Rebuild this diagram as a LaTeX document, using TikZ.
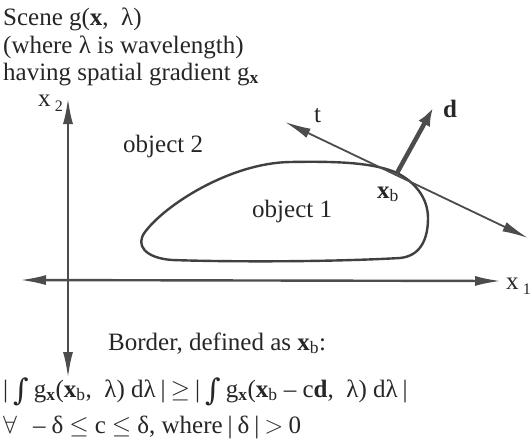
\documentclass[tikz,border=0pt]{standalone}
\usepackage{fix-cm}
\usepackage{fontspec}
\setmainfont{Liberation Serif}
\newfontfamily\intfont{DejaVu Serif}
\usetikzlibrary{positioning, arrows.meta, calc}
\newcommand{\vb}[1]{\textbf{#1}}
\newcommand{\xb}{\vb{x}\textsubscript{b}}
\newcommand{\gx}{g\textsubscript{\vb{x}}}
\newcommand{\absbar}{\hspace{5pt}|\hspace{5pt}}
\newcommand{\bigint}{\raisebox{-3pt}{\intfont\fontsize{30}{30}\selectfont ∫}}

\begin{document}
\begin{tikzpicture}[x=1pt, y=-1pt,
    txt/.style={inner sep=0pt, anchor=base west, text=black!85,
      font=\fontsize{25}{28}\selectfont},
    axis/.style={line width=2.4pt, draw=black!70,
      arrows={Latex[length=26pt, width=10pt]-Latex[length=26pt, width=10pt]}},
    tang/.style={line width=1.8pt, draw=black!70,
      arrows={Latex[length=26pt, width=10pt]-Latex[length=26pt, width=10pt]}},
    normal/.style={line width=4.5pt, draw=black!70,
      -{Latex[length=18pt, width=13pt]}},
    blob/.style={line width=2.4pt, draw=black!75}]
  \useasboundingbox (0,0) rectangle (530,440);

  % heading
  \node[txt] (head1) at (3,25) {Scene g(\vb{x}, \ λ)};
  \node[txt] (head2) at (3,53) {(where λ is wavelength)};
  \node[txt] (head3) at (3,80) {having spatial gradient \gx};

  % axes
  \coordinate (ytop) at (68,98);
  \coordinate (ybot) at (68,378);
  \coordinate (xleft) at (20,280);
  \coordinate (xright) at (501,281);
  \draw[axis] (ybot) -- (ytop);
  \draw[axis] (xleft) -- (xright);
  \node[txt] (xtwo) at (38,106) {x\,\raisebox{-5pt}{\fontsize{16}{18}\selectfont 2}};
  \node[txt] (xone) at (506,289) {x\,\raisebox{-5pt}{\fontsize{16}{18}\selectfont 1}};

  % object 1 outline
  \coordinate (bp) at (397,173);
  \draw[blob] (bp) .. controls (415,182) and (428,198) .. (428,218)
    .. controls (428,240) and (420,256) .. (400,258)
    .. controls (330,262) and (230,262) .. (172,260)
    .. controls (145,258) and (135,245) .. (145,232)
    .. controls (165,205) and (230,163) .. (290,162)
    .. controls (340,161) and (375,163) .. (bp);
  \node[txt] (obj1) at (252,217) {object 1};
  \node[txt] (obj2) at (123,152) {object 2};

  % tangent and normal at the border point
  \coordinate (tend) at (285,122);
  \coordinate (tfar) at (528,238);
  \coordinate (dtip) at (433,108);
  \draw[tang] (tend) -- (tfar);
  \draw[normal] (bp) -- (dtip);
  \node[txt] (tlab) at (314,122) {t};
  \node[txt] (dlab) at (443,117) {\vb{d}};
  \node[txt] (xblab) at (377,198) {\xb};

  % border definition
  \node[txt] (bord) at (108,350) {Border, defined as \xb:};
  \node[txt] (eq1) at (3,397) {|\hspace{5pt}\bigint\hspace{5pt}\gx(\xb, \ λ)\ dλ\absbar$\geq$\absbar\bigint\hspace{5pt}\gx(\xb\ –\ c\vb{d}, \ λ)\ dλ\hspace{5pt}|};
  \node[txt] (eq2) at (3,433) {$\forall$\hspace{16pt}–\hspace{6pt}δ\hspace{6pt}$\leq$\hspace{6pt}c\hspace{6pt}$\leq$\hspace{6pt}δ, where\absbar δ\absbar$>$\hspace{5pt}0};
\end{tikzpicture}
\end{document}
